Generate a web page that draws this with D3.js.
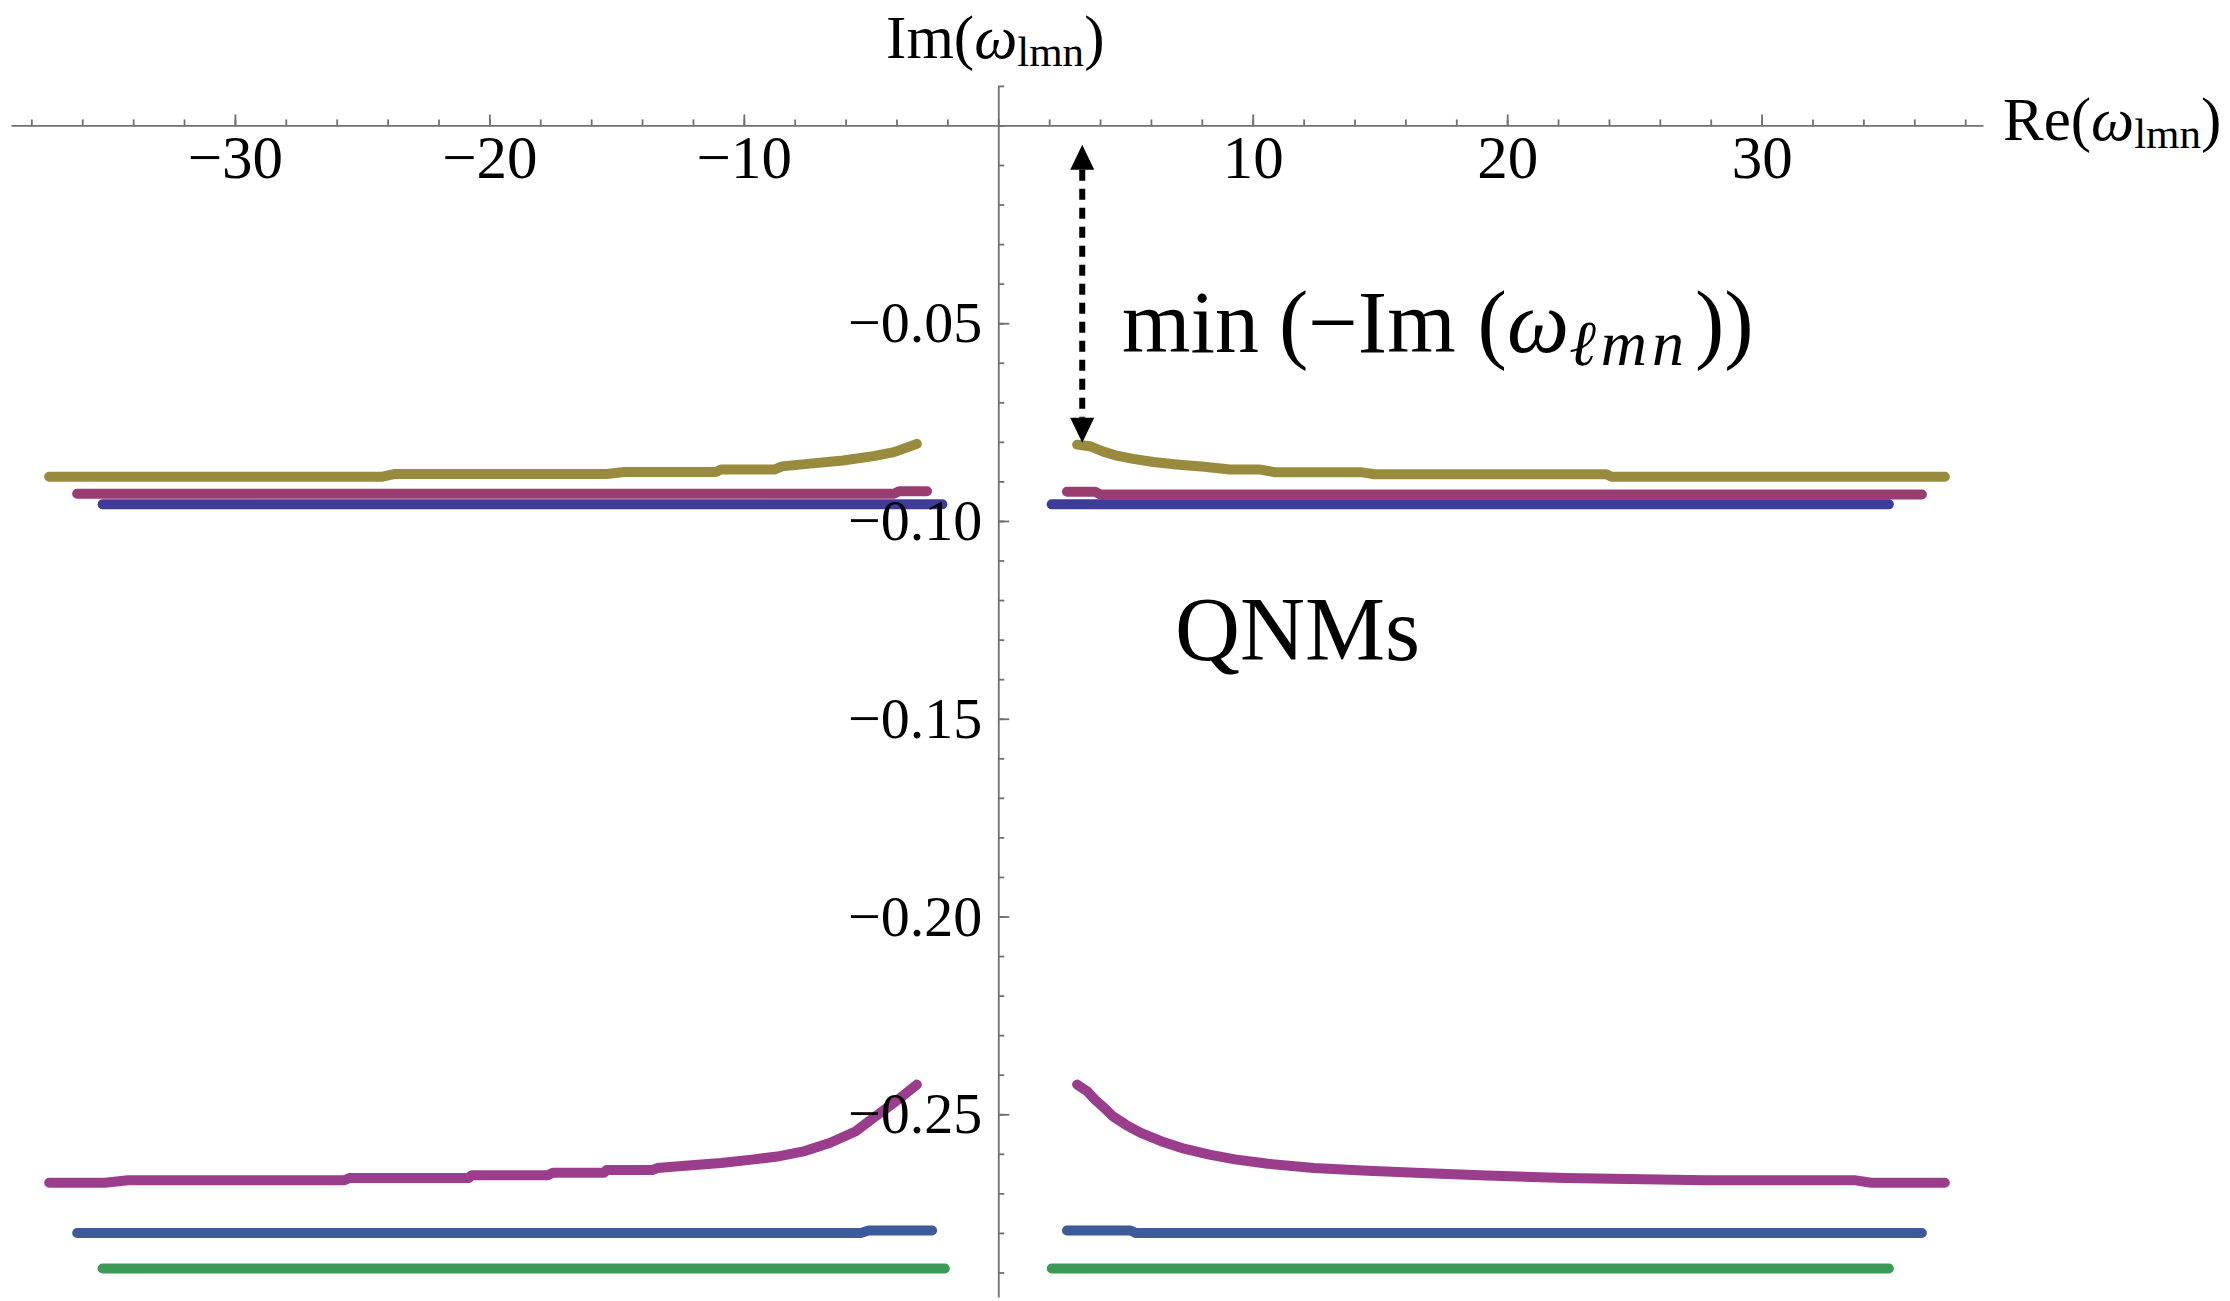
<!DOCTYPE html>
<html>
<head>
<meta charset="utf-8">
<script src="https://cdn.jsdelivr.net/npm/d3@7"></script>
<style>
body { margin: 0; background: #fff; }
text { font-family: "Liberation Serif", "Times New Roman", "DejaVu Serif", serif; fill: #000; }
</style>
</head>
<body>
<div id="chart"></div>
<script>
//tick values
var xTicks = [-30, -20, -10, 10, 20, 30];
var yTicks = [-0.05, -0.10, -0.15, -0.20, -0.25];

//series: [Re, Im]
//upper branch (n = 0)
var goldLeft = [[-37.3,-0.0888],[-24.2,-0.0888],[-23.7,-0.0881],[-15.4,-0.0881],[-14.7,-0.0876],[-11.1,-0.0876],[-10.9,-0.0870],[-8.8,-0.0870],[-8.5,-0.0862],[-7.4,-0.0855],[-6.1,-0.0847],[-4.9,-0.0836],[-4.1,-0.0826],[-3.2,-0.0805]];
var goldRight = [[3.1,-0.0807],[3.6,-0.0811],[4.1,-0.0824],[4.6,-0.0834],[5.3,-0.0843],[6.1,-0.0851],[7.0,-0.0857],[8.1,-0.0863],[9.1,-0.0870],[10.3,-0.0870],[10.9,-0.0877],[14.3,-0.0877],[14.8,-0.0882],[23.9,-0.0882],[24.1,-0.0888],[37.2,-0.0888]];
var magentaLeft = [[-36.2,-0.0931],[-4.1,-0.0931],[-3.9,-0.0925],[-2.8,-0.0925]];
var magentaRight = [[2.7,-0.0926],[3.8,-0.0926],[4.0,-0.0933],[36.3,-0.0933]];
var blueLeft = [[-35.2,-0.0958],[-2.2,-0.0958]];
var blueRight = [[2.1,-0.0958],[35.0,-0.0958]];

//lower branch (n = 1)
var purpleLeft = [[-37.3,-0.2673],[-35.1,-0.2673],[-34.2,-0.2667],[-25.7,-0.2667],[-25.5,-0.2661],[-20.8,-0.2661],[-20.7,-0.2654],[-17.7,-0.2654],[-17.5,-0.2648],[-15.5,-0.2648],[-15.4,-0.2641],[-13.6,-0.2641],[-13.4,-0.2636],[-12.3,-0.2630],[-10.9,-0.2623],[-9.6,-0.2614],[-8.6,-0.2606],[-7.6,-0.2593],[-6.6,-0.2572],[-5.6,-0.2543],[-4.9,-0.2509],[-4.1,-0.2471],[-3.2,-0.2425]];
var purpleRight = [[3.1,-0.2425],[3.5,-0.2442],[3.8,-0.2463],[4.2,-0.2486],[4.5,-0.2505],[5.0,-0.2526],[5.6,-0.2547],[6.4,-0.2568],[7.3,-0.2587],[8.3,-0.2602],[9.3,-0.2614],[10.6,-0.2625],[12.4,-0.2636],[14.3,-0.2642],[16.4,-0.2648],[19.2,-0.2655],[22.3,-0.2661],[27.8,-0.2667],[33.7,-0.2667],[34.3,-0.2673],[37.2,-0.2673]];
var steelLeft = [[-36.2,-0.2800],[-5.4,-0.2800],[-5.1,-0.2794],[-2.6,-0.2794]];
var steelRight = [[2.7,-0.2794],[5.2,-0.2794],[5.4,-0.2800],[36.3,-0.2800]];
var greenLeft = [[-35.2,-0.2890],[-2.1,-0.2890]];
var greenRight = [[2.1,-0.2890],[35.0,-0.2890]];

//arrow marking the smallest damping
var arrowRe = 3.3;
var arrowTop = -0.0049;
var arrowBottom = -0.0802;

//config values:
var svg_size = {width: 2230, height: 1301};
var colors = {gold: '#998b3d', magenta: '#993d71', blue: '#3d3d99',
  purple: '#993d8c', steel: '#3d5b99', green: '#3d9956'};
var axis_color = '#707070';
var point_width = 10;

var series = [
  {pts: goldLeft, color: colors.gold}, {pts: goldRight, color: colors.gold},
  {pts: magentaLeft, color: colors.magenta}, {pts: magentaRight, color: colors.magenta},
  {pts: blueLeft, color: colors.blue}, {pts: blueRight, color: colors.blue},
  {pts: purpleLeft, color: colors.purple}, {pts: purpleRight, color: colors.purple},
  {pts: steelLeft, color: colors.steel}, {pts: steelRight, color: colors.steel},
  {pts: greenLeft, color: colors.green}, {pts: greenRight, color: colors.green}
];

var svg = d3.select('#chart').append('svg')
  .attr('width', svg_size.width)
  .attr('height', svg_size.height);

var x = d3.scaleLinear().domain([-38.8, 38.7]).range([11, 1983]);
var y = d3.scaleLinear().domain([0.0101, -0.2962]).range([85.5, 1297]);

//series first, axes drawn over them
var line = d3.line()
  .x(function(d){return x(d[0]);})
  .y(function(d){return y(d[1]);});

svg.selectAll('.series')
  .data(series)
  .enter()
  .append('path')
  .attr('class', 'series')
  .attr('d', function(d){return line(d.pts);})
  .attr('fill', 'none')
  .attr('stroke', function(d){return d.color;})
  .attr('stroke-width', point_width)
  .attr('stroke-linecap', 'round')
  .attr('stroke-linejoin', 'round');

//x axis: ticks point up, labels below
var xMinor = svg.append('g')
  .attr('transform', 'translate(0,' + y(0) + ')')
  .call(d3.axisBottom(x).tickValues(d3.range(-38, 39, 2)).tickSize(-6).tickSizeOuter(0).tickFormat(''));
var xMajor = svg.append('g')
  .attr('transform', 'translate(0,' + y(0) + ')')
  .call(d3.axisBottom(x).tickValues(xTicks).tickSize(-11).tickSizeOuter(0).tickPadding(9));

//y axis: ticks point right, labels left
var yMinor = svg.append('g')
  .attr('transform', 'translate(' + x(0) + ',0)')
  .call(d3.axisLeft(y).tickValues(d3.range(1, -30, -1).map(function(v){return v / 100;})).tickSize(-6).tickSizeOuter(0).tickFormat(''));
var yMajor = svg.append('g')
  .attr('transform', 'translate(' + x(0) + ',0)')
  .call(d3.axisLeft(y).tickValues(yTicks).tickSize(-11).tickSizeOuter(0).tickPadding(16).tickFormat(d3.format('.2f')));

[xMinor, xMajor, yMinor, yMajor].forEach(function(g){
  g.attr('font-family', null);
  g.selectAll('path, line').attr('stroke', axis_color).attr('stroke-width', 1.8);
  g.selectAll('text')
    .attr('fill', '#000')
    .style('font-family', '"Liberation Serif", serif');
});
xMajor.selectAll('text').style('font-size', '61px');
yMajor.selectAll('text').style('font-size', '58px');
yMinor.select('.domain').remove();
xMinor.select('.domain').remove();

//axis titles
var imLabel = svg.append('text')
  .attr('x', x(0) - 3)
  .attr('y', 58)
  .attr('text-anchor', 'middle')
  .style('font-size', '61px');
imLabel.append('tspan').text('Im(');
imLabel.append('tspan').style('font-style', 'italic').text('ω');
imLabel.append('tspan').attr('dy', 8).style('font-size', '43px').text('lmn');
imLabel.append('tspan').attr('dy', -8).text(')');

var reLabel = svg.append('text')
  .attr('x', 2003)
  .attr('y', y(0) + 15)
  .style('font-size', '61px');
reLabel.append('tspan').text('Re(');
reLabel.append('tspan').style('font-style', 'italic').text('ω');
reLabel.append('tspan').attr('dy', 8).style('font-size', '43px').text('lmn');
reLabel.append('tspan').attr('dy', -8).text(')');

//annotation
var minLabel = svg.append('text')
  .attr('x', 1122)
  .attr('y', 352)
  .style('font-size', '88px');
minLabel.append('tspan').text('min');
minLabel.append('tspan').attr('dx', 20).text('(−');
minLabel.append('tspan').text('Im');
minLabel.append('tspan').attr('dx', 22).text('(');
minLabel.append('tspan').style('font-style', 'italic').text('ω');
minLabel.append('tspan').attr('dy', 13).style('font-style', 'italic').style('font-size', '64px')
  .style('letter-spacing', '5px').text('ℓmn');
minLabel.append('tspan').attr('dy', -13).attr('dx', 6).text('))');

svg.append('text')
  .attr('x', 1175)
  .attr('y', 660)
  .style('font-size', '90px')
  .text('QNMs');

//dashed double arrow
var ax = x(arrowRe);
var y1 = y(arrowTop), y2 = y(arrowBottom);
var head = 25, halfw = 12;
svg.append('line')
  .attr('x1', ax).attr('x2', ax)
  .attr('y1', y1 + head).attr('y2', y2 - head)
  .attr('stroke', '#000')
  .attr('stroke-width', 6)
  .attr('stroke-dasharray', '11,8');
svg.append('path')
  .attr('d', 'M' + ax + ',' + y1 + 'L' + (ax - halfw) + ',' + (y1 + head) + 'L' + (ax + halfw) + ',' + (y1 + head) + 'Z')
  .attr('fill', '#000');
svg.append('path')
  .attr('d', 'M' + ax + ',' + y2 + 'L' + (ax - halfw) + ',' + (y2 - head) + 'L' + (ax + halfw) + ',' + (y2 - head) + 'Z')
  .attr('fill', '#000');
</script>
</body>
</html>
